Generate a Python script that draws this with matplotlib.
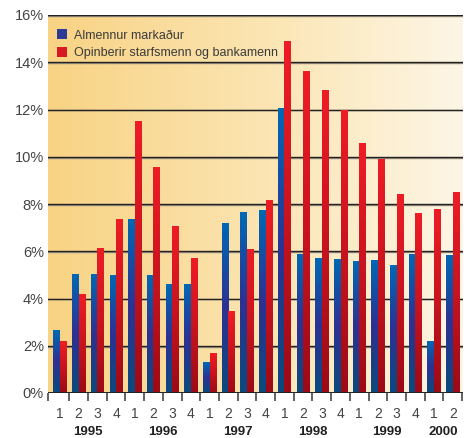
import numpy as np
import matplotlib
matplotlib.use("Agg")
from matplotlib import pyplot as plt
from matplotlib.colors import LinearSegmentedColormap
from matplotlib.patches import Patch

# Quarterly values (%)
quarters = ['1', '2', '3', '4'] * 5 + ['1', '2']
years = ['1995', '1996', '1997', '1998', '1999', '2000']
almennur = [2.63, 5.0, 5.0, 4.96, 7.33, 4.96, 4.58, 4.58, 1.31, 7.16, 7.63, 7.71,
            12.06, 5.85, 5.68, 5.64, 5.55, 5.59, 5.38, 5.85, 2.2, 5.8]
opinberir = [2.16, 4.15, 6.1, 7.33, 11.48, 9.53, 7.03, 5.68, 1.69, 3.43, 6.06, 8.14,
             14.87, 13.6, 12.8, 11.95, 10.55, 9.87, 8.39, 7.58, 7.75, 8.5]
series_names = ['Almennur markaður', 'Opinberir starfsmenn og bankamenn']

blue_cmap = LinearSegmentedColormap.from_list('b', ['#0a4a7e', '#2e3192', '#0068b4'])
red_cmap = LinearSegmentedColormap.from_list('r', ['#9c0a17', '#c8141f', '#ee1c25'])
bg_cmap = LinearSegmentedColormap.from_list('bg', ['#f8d384', '#fbe4b0', '#fdf6e6'])

fig = plt.figure(figsize=(4.72, 4.38), dpi=100)
ax = fig.add_axes([48 / 472, 1 - 393 / 438, 415 / 472, 378 / 438])

x = np.arange(len(almennur))
w = 0.35
xl = (-0.64, 21.55)

# background gradient
grad = np.linspace(0, 1, 256).reshape(1, -1)
ax.imshow(grad, cmap=bg_cmap, extent=[0, 1, 0, 1], transform=ax.transAxes,
          aspect='auto', zorder=0)

vgrad = np.linspace(0, 1, 100).reshape(-1, 1)


def gradient_bars(xs, vals, cmap):
    for xi, v in zip(xs, vals):
        ax.imshow(vgrad, cmap=cmap, origin='lower', extent=[xi, xi + w, 0, v],
                  aspect='auto', zorder=3)


gradient_bars(x - w, almennur, blue_cmap)
gradient_bars(x, opinberir, red_cmap)
ax.set_xlim(*xl)
ax.set_ylim(0, 16)

# gridlines
for v in range(2, 17, 2):
    ax.axhline(v - 0.04, color='#9a9080', lw=1.0, zorder=1)
    ax.axhline(v, color='#222222', lw=1.0, zorder=2)
ax.axhline(0, color='#222222', lw=1.4, zorder=4)

for s in ax.spines.values():
    s.set_visible(False)

ax.set_yticks(range(0, 17, 2))
ax.set_yticklabels([f'{v}%' for v in range(0, 17, 2)], fontsize=10.5,
                   color='#444444', family='Liberation Sans')
ax.tick_params(axis='y', length=0, pad=3)

# bottom tick marks at group boundaries
ax.set_xticks([xl[0]] + list(np.arange(0.5, 22, 1.0)))
ax.set_xticklabels([])
ax.tick_params(axis='x', length=6, width=1.3, color='#555555', direction='out')

for xi, q in zip(x, quarters):
    ax.text(xi, -0.6, q, ha='center', va='top', fontsize=10,
            color='#444444', family='Liberation Sans')
# year label centred under its quarters (2000 has only two)
for i, yr in enumerate(years):
    n = quarters[4 * i:4 * i + 4]
    ax.text(4 * i + (len(n) - 1) / 2, -1.4, yr, ha='center', va='top', fontsize=9.5,
            fontweight='bold', color='#222222', family='Liberation Sans')

handles = [Patch(facecolor='#2b3a94', edgecolor='none'),
           Patch(facecolor='#d71a22', edgecolor='none')]
leg = ax.legend(handles, series_names, loc='upper left', bbox_to_anchor=(0.0, 0.985),
                frameon=False, handlelength=0.85, handleheight=0.85,
                handletextpad=0.55, labelspacing=0.4, borderaxespad=0.3,
                prop={'family': 'Liberation Sans', 'size': 9})
for t in leg.get_texts():
    t.set_color('#3a3a3a')

fig.savefig('out.png', dpi=100)
